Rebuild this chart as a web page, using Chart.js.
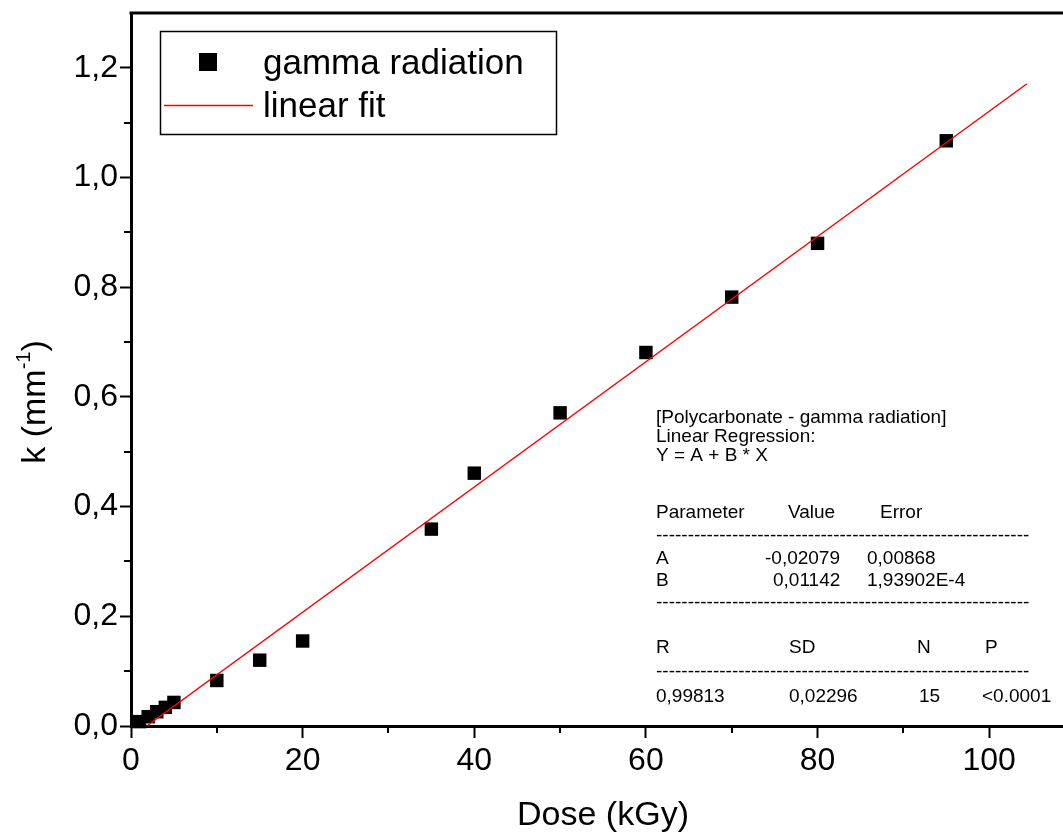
<!DOCTYPE html>
<html><head><meta charset="utf-8">
<script src="https://cdn.jsdelivr.net/npm/chart.js@4.4.0/dist/chart.umd.min.js"></script>
<style>html,body{margin:0;padding:0;background:#fff;} #wrap{width:1063px;height:832px;position:relative;}</style>
</head><body><div id="wrap"><canvas id="c" width="1063" height="832"></canvas></div>
<script>
const doseKGy = [1, 2, 3, 4, 5, 10, 15, 20, 35, 40, 50, 60, 70, 80, 95];
const kValues = [0.008, 0.017, 0.026, 0.034, 0.043, 0.083, 0.120, 0.155, 0.359, 0.461, 0.571, 0.681, 0.782, 0.880, 1.067];
const fitDose = [1.82, 104.4];
const fitK = [0.0, 1.171];
const xMajorTicks = [0, 20, 40, 60, 80, 100];
const xMinorTicks = [10, 30, 50, 70, 90];
const yMajorTicks = [0, 0.2, 0.4, 0.6, 0.8, 1.0, 1.2];
const yMinorTicks = [0.1, 0.3, 0.5, 0.7, 0.9, 1.1];
const legendLabels = ['gamma radiation', 'linear fit'];
const xTitle = 'Dose (kGy)';
const yTitleMain = 'k (mm';
const yTitleSup = '-1';
const yTitleEnd = ')';
const statsHeader = ['[Polycarbonate - gamma radiation]', 'Linear Regression:', 'Y = A + B * X'];
const statsColHead = ['Parameter', 'Value', 'Error'];
const statsRowA = ['A', '-0,02079', '0,00868'];
const statsRowB = ['B', '0,01142', '1,93902E-4'];
const statsRHead = ['R', 'SD', 'N', 'P'];
const statsRVals = ['0,99813', '0,02296', '15', '<0.0001'];

const FONT = "'Liberation Sans', Arial, sans-serif";

const decor = {
  id: 'decor',
  afterDraw(chart) {
    const ctx = chart.ctx;
    const ca = chart.chartArea;
    const xs = chart.scales.x, ys = chart.scales.y;
    ctx.save();
    // top frame
    ctx.strokeStyle = '#000';
    ctx.lineWidth = 3;
    ctx.beginPath();
    ctx.moveTo(ca.left - 1.5, ca.top);
    ctx.lineTo(1063, ca.top);
    ctx.stroke();
    // minor ticks
    ctx.lineWidth = 2;
    ctx.beginPath();
    xMinorTicks.forEach(v => {
      const px = Math.round(xs.getPixelForValue(v));
      ctx.moveTo(px, ca.bottom);
      ctx.lineTo(px, ca.bottom + 7);
    });
    yMinorTicks.forEach(v => {
      const py = Math.round(ys.getPixelForValue(v));
      ctx.moveTo(ca.left, py);
      ctx.lineTo(ca.left - 7, py);
    });
    ctx.stroke();

    // legend box
    ctx.lineWidth = 1.5;
    ctx.strokeStyle = '#000';
    ctx.strokeRect(160.5, 31.5, 396, 103);
    ctx.fillStyle = '#000';
    ctx.fillRect(199, 53, 18, 18);
    ctx.strokeStyle = '#ff0000';
    ctx.lineWidth = 1.5;
    ctx.beginPath();
    ctx.moveTo(164, 105.5);
    ctx.lineTo(253, 105.5);
    ctx.stroke();
    ctx.fillStyle = '#000';
    ctx.font = '35px ' + FONT;
    ctx.textAlign = 'left';
    ctx.textBaseline = 'alphabetic';
    ctx.fillText(legendLabels[0], 263, 74);
    ctx.fillText(legendLabels[1], 263, 117);

    // stats text
    ctx.font = '19px ' + FONT;
    ctx.textBaseline = 'middle';
    const L = 656;
    ctx.fillText(statsHeader[0], L, 418);
    ctx.fillText(statsHeader[1], L, 437);
    ctx.fillText(statsHeader[2], L, 456);
    ctx.fillText(statsColHead[0], L, 513);
    ctx.fillText(statsColHead[1], 788, 513);
    ctx.fillText(statsColHead[2], 880, 513);
    const dashW = ctx.measureText('-').width;
    const n = Math.round(372 / dashW);
    const dashes = '-'.repeat(n);
    ctx.fillText(dashes, L, 536);
    ctx.fillText(statsRowA[0], L, 559);
    ctx.fillText(statsRowA[1], 765, 559);
    ctx.fillText(statsRowA[2], 867, 559);
    ctx.fillText(statsRowB[0], L, 581);
    ctx.fillText(statsRowB[1], 773, 581);
    ctx.fillText(statsRowB[2], 867, 581);
    ctx.fillText(dashes, L, 603);
    ctx.fillText(statsRHead[0], L, 648);
    ctx.fillText(statsRHead[1], 789, 648);
    ctx.fillText(statsRHead[2], 917, 648);
    ctx.fillText(statsRHead[3], 985, 648);
    ctx.fillText(dashes, L, 672);
    ctx.fillText(statsRVals[0], L, 697);
    ctx.fillText(statsRVals[1], 789, 697);
    ctx.fillText(statsRVals[2], 919, 697);
    ctx.fillText(statsRVals[3], 982, 697);

    // x title
    ctx.font = '34px ' + FONT;
    ctx.textAlign = 'center';
    ctx.textBaseline = 'middle';
    ctx.fillText(xTitle, 603, 816);

    // y title
    ctx.translate(36, 402);
    ctx.rotate(-Math.PI / 2);
    ctx.textAlign = 'left';
    ctx.font = '34px ' + FONT;
    const w1 = ctx.measureText(yTitleMain).width;
    const w3 = ctx.measureText(yTitleEnd).width;
    ctx.font = '20px ' + FONT;
    const w2 = ctx.measureText(yTitleSup).width;
    const total = w1 + w2 + w3;
    let x0 = -total / 2;
    ctx.font = '34px ' + FONT;
    ctx.fillText(yTitleMain, x0, 0);
    ctx.font = '20px ' + FONT;
    ctx.fillText(yTitleSup, x0 + w1, -12);
    ctx.font = '34px ' + FONT;
    ctx.fillText(yTitleEnd, x0 + w1 + w2, 0);
    ctx.restore();
  }
};

new Chart(document.getElementById('c'), {
  type: 'scatter',
  data: {
    datasets: [
      {
        type: 'line',
        label: legendLabels[1],
        data: fitDose.map((x, i) => ({ x: x, y: fitK[i] })),
        borderColor: '#ff0000',
        borderWidth: 1.5,
        pointRadius: 0,
        fill: false,
        tension: 0
      },
      {
        label: legendLabels[0],
        data: doseKGy.map((x, i) => ({ x: x, y: kValues[i] })),
        pointStyle: 'rect',
        pointRadius: 9.5,
        backgroundColor: '#000',
        borderColor: '#000',
        borderWidth: 0,
        clip: false
      }
    ]
  },
  options: {
    responsive: false,
    animation: false,
    devicePixelRatio: 1,
    layout: { autoPadding: false, padding: { top: 13, right: 0, left: 0, bottom: 0 } },
    plugins: { legend: { display: false }, tooltip: { enabled: false }, title: { display: false } },
    scales: {
      x: {
        type: 'linear',
        min: 0,
        max: 108.6,
        afterBuildTicks: s => { s.ticks = xMajorTicks.map(v => ({ value: v })); },
        afterFit: s => { s.height = 106; s.paddingLeft = 0; s.paddingRight = 0; },
        ticks: {
          color: '#000',
          font: { family: FONT, size: 32 },
          padding: 4,
          maxRotation: 0,
          autoSkip: false,
          callback: v => String(v)
        },
        grid: { drawOnChartArea: false, drawTicks: true, tickLength: 12, tickWidth: 2, tickColor: '#000' },
        border: { display: true, width: 3, color: '#000' }
      },
      y: {
        type: 'linear',
        min: 0,
        max: 1.3,
        afterBuildTicks: s => { s.ticks = yMajorTicks.map(v => ({ value: v })); },
        afterFit: s => { s.width = 131; s.paddingTop = 0; s.paddingBottom = 0; },
        ticks: {
          color: '#000',
          font: { family: FONT, size: 32 },
          padding: 2,
          autoSkip: false,
          callback: v => Number(v).toFixed(1).replace('.', ',')
        },
        grid: { drawOnChartArea: false, drawTicks: true, tickLength: 11, tickWidth: 2, tickColor: '#000' },
        border: { display: true, width: 3, color: '#000' }
      }
    }
  },
  plugins: [decor]
});
</script></body></html>
